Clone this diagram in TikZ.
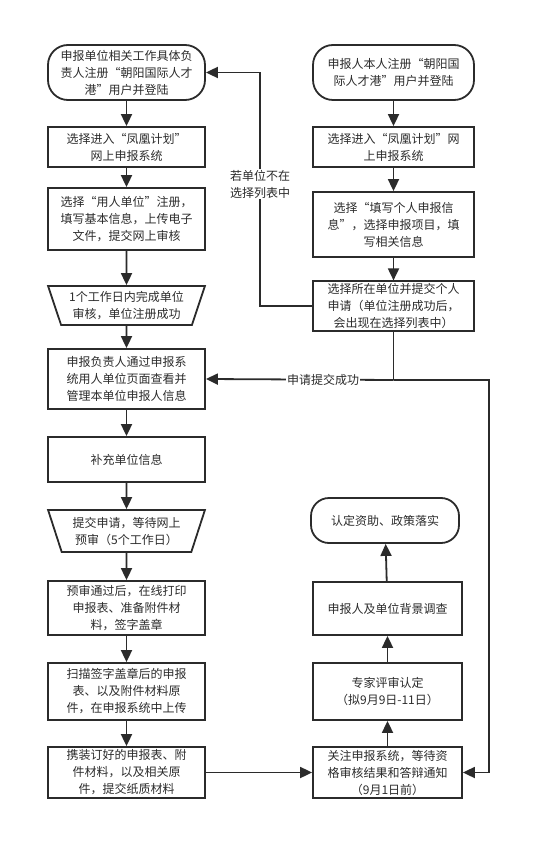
\documentclass[tikz,border=0pt]{standalone}
\usepackage{fontspec}
\newfontfamily\cjk{Noto Sans CJK SC}
\usetikzlibrary{arrows.meta,shapes.geometric}

\definecolor{lijn}{HTML}{2B2B2B}

\tikzset{
  blok/.style={draw=lijn,line width=1.8pt,rectangle,align=center,inner sep=2pt,
    font=\cjk\fontsize{12}{17}\selectfont,text=lijn},
  eind/.style={blok,rounded corners=20pt},
  trap/.style={blok,trapezium,trapezium angle=70,trapezium stretches=true,
    shape border rotate=180,minimum width=157pt},
  pijl/.style={draw=lijn,line width=1.8pt,-{Triangle[length=12pt,width=11pt]}},
  lijntje/.style={draw=lijn,line width=1.8pt},
  tekstje/.style={fill=white,inner sep=1pt,font=\cjk\fontsize{12}{17}\selectfont,text=lijn,align=center}
}

\begin{document}
\begin{tikzpicture}[x=1pt,y=-1pt]

\useasboundingbox (0,0) rectangle (550,858);

% linker kolom
\node[eind,minimum width=157pt,minimum height=55pt] (l1) at (126.5,72.5)
  {申报单位相关工作具体负\\责人注册“朝阳国际人才\\港”用户并登陆};
\node[blok,minimum width=157pt,minimum height=40pt] (l2) at (126.5,147)
  {选择进入“凤凰计划”\\网上申报系统};
\node[blok,minimum width=157pt,minimum height=62pt] (l3) at (126.5,219)
  {选择“用人单位”注册，\\填写基本信息，上传电子\\文件，提交网上审核};
\node[trap,minimum height=39pt] (l4) at (126.5,305.5)
  {1个工作日内完成单位\\审核，单位注册成功};
\node[blok,minimum width=157pt,minimum height=60pt] (l5) at (126.5,379)
  {申报负责人通过申报系\\统用人单位页面查看并\\管理本单位申报人信息};
\node[blok,minimum width=157pt,minimum height=45pt] (l6) at (126.5,459.5)
  {补充单位信息};
\node[trap,minimum height=42pt] (l7) at (126.5,531)
  {提交申请，等待网上\\预审（5个工作日）};
\node[blok,minimum width=157pt,minimum height=54pt] (l8) at (126.5,608)
  {预审通过后，在线打印\\申报表、准备附件材\\料，签字盖章};
\node[blok,minimum width=157pt,minimum height=57pt] (l9) at (126.5,691.5)
  {扫描签字盖章后的申报\\表、以及附件材料原\\件，在申报系统中上传};
\node[blok,minimum width=157pt,minimum height=51pt] (l10) at (126.5,772.5)
  {携装订好的申报表、附\\件材料，以及相关原\\件，提交纸质材料};

% rechter kolom boven
\node[eind,minimum width=161pt,minimum height=55pt] (r1) at (393.5,72.5)
  {申报人本人注册“朝阳国\\际人才港”用户并登陆};
\node[blok,minimum width=161pt,minimum height=40pt] (r2) at (393.5,147)
  {选择进入“凤凰计划”网\\上申报系统};
\node[blok,minimum width=161pt,minimum height=65pt] (r3) at (393.5,224.5)
  {选择“填写个人申报信\\息”，选择申报项目，填\\写相关信息};
\node[blok,minimum width=161pt,minimum height=48pt] (r4) at (393.5,306)
  {选择所在单位并提交个人\\申请（单位注册成功后，\\会出现在选择列表中）};

% rechter kolom onder
\node[eind,rounded corners=18pt,minimum width=148pt,minimum height=45pt] (t) at (385,520.5)
  {认定资助、政策落实};
\node[blok,minimum width=149pt,minimum height=53pt] (b2) at (387.5,608.5)
  {申报人及单位背景调查};
\node[blok,minimum width=149pt,minimum height=57pt] (b3) at (387.5,691.5)
  {专家评审认定\\（拟9月9日-11日）};
\node[blok,minimum width=149pt,minimum height=51pt] (b4) at (387.5,772.5)
  {关注申报系统，等待资\\格审核结果和答辩通知\\（9月1日前）};

% pijlen
\foreach \a/\b in {l1/l2,l2/l3,l3/l4,l4/l5,l5/l6,l6/l7,l7/l8,l8/l9,l9/l10,r1/r2,r2/r3,r3/r4,b4/b3,b3/b2,b2/t}
{
\draw[pijl] (\a) -- (\b);
}

\coordinate (terug) at (260,306);
\coordinate (knik) at (393.5,380);
\coordinate (rechts) at (489,380);

\draw[pijl] (r4.west) -- (terug) -- (terug |- l1.east) -- (l1.east);
\node[tekstje] (nietin) at (260,184) {若单位不在\\选择列表中};

\draw[lijntje] (r4.south) -- (knik);
\draw[pijl] (knik) -- (l5.east);
\node[tekstje] (gelukt) at (323,380) {申请提交成功};
\draw[pijl] (knik) -- (rechts) -- (rechts |- b4.east) -- (b4.east);

\draw[pijl] (l10.east) -- (b4.west);

\end{tikzpicture}
\end{document}
